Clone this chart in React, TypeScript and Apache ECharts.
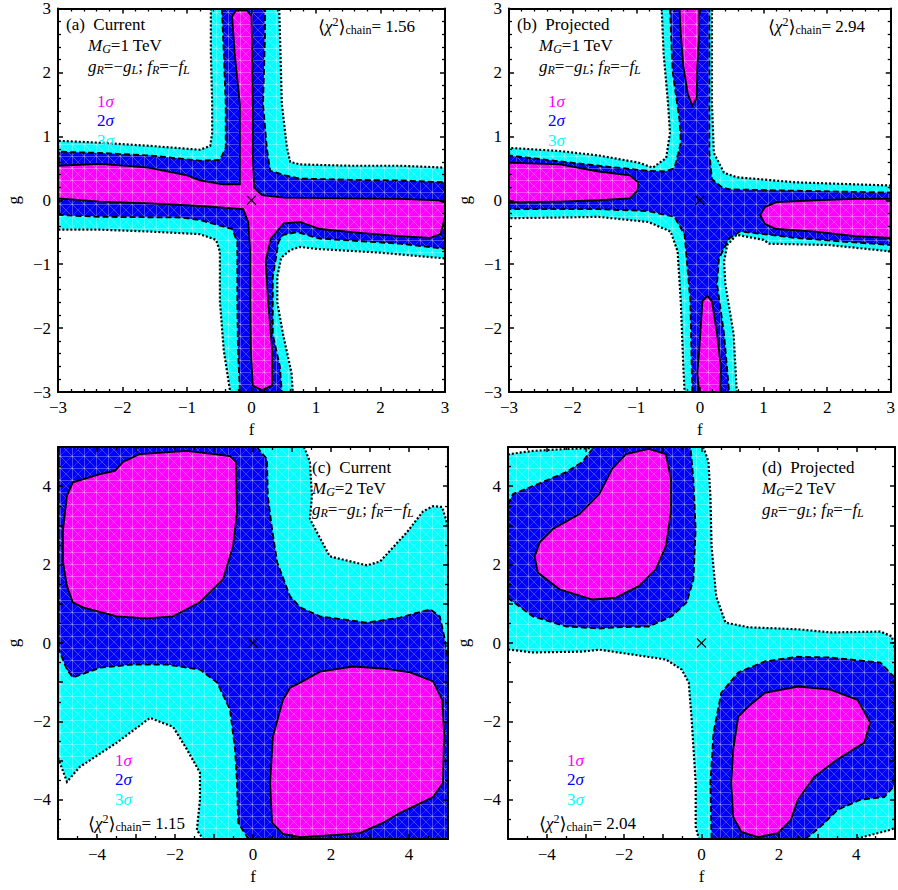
import React, { useEffect, useRef } from "react";
import * as echarts from "echarts";

type Pt = [number, number];

const SERIF = "Liberation Serif";
const MAGENTA = "#ff00ff";
const BLUE = "#0000ff";
const CYAN = "#00ffff";

// ---------- Panel (a): Current, M_G = 1 TeV ----------
const A_3SIGMA: Pt[] = [
  [-0.63, 3], [-0.63, 2.3], [-0.61, 1.5], [-0.61, 1.05], [-0.64, 0.85], [-0.8, 0.79], [-1.57, 0.85], [-2.35, 0.9], [-3, 0.93],
  [-3, -0.46], [-2.35, -0.46], [-1.57, -0.49], [-0.8, -0.53], [-0.55, -0.62], [-0.49, -0.8], [-0.49, -1.58], [-0.43, -2.35], [-0.33, -3],
  [0.64, -3], [0.62, -2.7], [0.49, -2.1], [0.4, -1.6], [0.4, -1.2], [0.46, -0.9], [0.6, -0.78], [0.75, -0.73], [1.0, -0.76], [2.0, -0.82], [3, -0.91],
  [3, 0.51], [2.3, 0.54], [1.53, 0.54], [0.75, 0.56], [0.6, 0.6], [0.55, 0.82], [0.47, 1.51], [0.43, 3],
];
const A_2SIGMA: Pt[] = [
  [-0.46, 3], [-0.43, 2.3], [-0.4, 1.5], [-0.4, 0.82], [-0.49, 0.63], [-0.8, 0.62], [-1.57, 0.7], [-2.35, 0.74], [-3, 0.76],
  [-3, -0.23], [-2.35, -0.26], [-1.1, -0.27], [-0.8, -0.31], [-0.3, -0.45], [-0.22, -0.65], [-0.22, -1.58], [-0.21, -2.35], [-0.18, -3],
  [0.47, -3], [0.44, -2.6], [0.33, -2.1], [0.33, -1.2], [0.42, -0.65], [0.49, -0.54], [0.71, -0.5], [1.06, -0.6], [2.3, -0.68], [3, -0.76],
  [3, 0.28], [2.3, 0.31], [1.53, 0.32], [0.75, 0.34], [0.52, 0.39], [0.29, 0.46], [0.24, 0.8], [0.18, 1.5], [0.21, 2.6], [0.21, 3],
];
const A_1SIGMA: Pt[] = [
  [-0.3, 2.88], [-0.24, 2.97], [-0.07, 2.97], [0.0, 2.88], [0.01, 2.3], [0.02, 1.5], [0.02, 0.7], [0.04, 0.2], [0.16, 0.08], [0.5, 0.04],
  [1.5, 0.03], [2.3, 0.02], [2.9, 0.0], [3, -0.04], [3, -0.26], [2.93, -0.53], [2.77, -0.59], [2.3, -0.56], [1.68, -0.51], [1.06, -0.45],
  [0.75, -0.34], [0.5, -0.36], [0.3, -0.6], [0.22, -0.95], [0.26, -1.6], [0.32, -2.35], [0.32, -2.9], [0.16, -2.97], [0.02, -2.9],
  [-0.01, -2.35], [-0.02, -1.6], [-0.02, -0.8], [-0.05, -0.34], [-0.13, -0.14], [-0.8, -0.09], [-1.57, -0.05], [-2.35, -0.02], [-3, 0.03],
  [-3, 0.54], [-2.35, 0.57], [-1.6, 0.51], [-1.0, 0.39], [-0.8, 0.31], [-0.45, 0.25], [-0.18, 0.25], [-0.18, 1.5], [-0.26, 2.29],
];

// ---------- Panel (b): Projected, M_G = 1 TeV ----------
const B_3SIGMA: Pt[] = [
  [-0.6, 3], [-0.57, 2.29], [-0.5, 1.51], [-0.47, 1.05], [-0.53, 0.66], [-0.74, 0.51], [-0.97, 0.59], [-1.59, 0.7], [-2.21, 0.77], [-3, 0.82],
  [-3, -0.28], [-2.2, -0.27], [-1.59, -0.26], [-0.81, -0.34], [-0.46, -0.49], [-0.35, -0.8], [-0.3, -1.58], [-0.26, -2.61], [-0.24, -3],
  [0.58, -3], [0.53, -2.09], [0.4, -1.31], [0.38, -0.96], [0.43, -0.7], [0.58, -0.54], [1.0, -0.62], [1.09, -0.68], [2.02, -0.7], [3, -0.8],
  [3, 0.23], [1.51, 0.28], [0.58, 0.36], [0.38, 0.43], [0.22, 0.74], [0.19, 1.51], [0.19, 3],
];
const B_2SIGMA: Pt[] = [
  [-0.47, 3], [-0.43, 2.02], [-0.32, 1.25], [-0.3, 0.9], [-0.4, 0.5], [-0.55, 0.45], [-0.81, 0.46], [-1.59, 0.54], [-3, 0.7],
  [-3, -0.14], [-1.59, -0.14], [-0.81, -0.17], [-0.4, -0.26], [-0.24, -0.54], [-0.15, -1.58], [-0.12, -3],
  [0.46, -3], [0.38, -2.09], [0.27, -1.31], [0.3, -0.91], [0.46, -0.6], [0.63, -0.49], [1.0, -0.53], [1.51, -0.59], [2.29, -0.65], [3, -0.7],
  [3, 0.12], [0.47, 0.17], [0.35, 0.2], [0.19, 0.33], [0.15, 0.74], [0.15, 3],
];
const B_1SIGMA_TOP: Pt[] = [
  [-0.32, 3], [-0.3, 2.6], [-0.26, 2.1], [-0.19, 1.67], [-0.12, 1.48], [-0.05, 1.6], [-0.04, 2.1], [-0.01, 2.6], [-0.01, 3],
];
const B_1SIGMA_LEFT: Pt[] = [
  [-3, 0.59], [-2.2, 0.56], [-1.59, 0.45], [-1.1, 0.39], [-0.97, 0.28], [-0.98, 0.15], [-1.1, 0.03], [-1.59, 0.0], [-2.2, -0.02], [-3, -0.03],
];
const B_1SIGMA_RIGHT: Pt[] = [
  [0.95, -0.23], [1.02, -0.11], [1.2, -0.03], [1.82, 0], [2.44, 0.02], [3, 0.02], [3, -0.59], [2.44, -0.56], [1.82, -0.49], [1.2, -0.45], [1.02, -0.37],
];
const B_1SIGMA_BOTTOM: Pt[] = [
  [0.12, -1.5], [0.04, -1.58], [-0.01, -2.35], [-0.04, -2.71], [-0.01, -3], [0.32, -3], [0.33, -2.61], [0.27, -2.09], [0.19, -1.58],
];

// ---------- Panel (c): Current, M_G = 2 TeV ----------
const C_2SIGMA: Pt[] = [[-5, -5], [5, -5], [5, 5], [-5, 5]];
const C_3SIGMA_UR: Pt[] = [
  [0.1, 5], [0.18, 4.9], [0.36, 4.69], [0.38, 3.75], [0.49, 2.9], [0.62, 2.06], [0.95, 1.19], [1.21, 0.91], [1.72, 0.68],
  [2.92, 0.52], [3.77, 0.65], [4.54, 0.86], [4.79, 0.68], [4.92, 0.09], [5, -0.42], [5, 5],
];
const C_OUT_UR: Pt[] = [
  [1.3, 5], [1.33, 4.95], [1.46, 4.62], [1.51, 3.75], [1.46, 3.16], [1.97, 2.21], [2.92, 1.98], [3.26, 2.08], [3.95, 2.83],
  [4.36, 3.36], [4.62, 3.49], [4.85, 3.47], [5, 2.98], [5, 5],
];
const C_3SIGMA_LL: Pt[] = [
  [-5, -0.1], [-4.95, -0.24], [-4.77, -0.68], [-4.62, -0.88], [-3.92, -0.63], [-3.08, -0.55], [-2.21, -0.55], [-1.36, -0.68],
  [-0.92, -1.01], [-0.59, -1.7], [-0.46, -2.72], [-0.41, -3.57], [-0.38, -4.59], [-0.15, -4.95], [-0.08, -5], [-5, -5],
];
const C_OUT_LL: Pt[] = [
  [-5, -2.93], [-4.77, -3.54], [-4.44, -3.16], [-3.49, -2.54], [-2.64, -1.91], [-2.05, -2.14], [-1.69, -2.72], [-1.36, -3.31],
  [-1.36, -4.0], [-1.44, -4.77], [-1.28, -5], [-5, -5],
];
const C_1SIGMA_UL: Pt[] = [
  [-3.33, 4.62], [-2.9, 4.82], [-1.69, 4.9], [-0.59, 4.77], [-0.44, 4.62], [-0.41, 3.34], [-0.51, 2.47], [-0.77, 1.62], [-1.36, 1.04],
  [-2.05, 0.68], [-2.72, 0.63], [-3.49, 0.68], [-4.36, 0.91], [-4.62, 1.04], [-4.77, 1.45], [-4.87, 2.06], [-4.87, 2.9], [-4.77, 3.75],
  [-4.62, 4.1], [-3.92, 4.31], [-3.54, 4.39],
];
const C_1SIGMA_LR: Pt[] = [
  [0.95, -1.14], [1.21, -1.01], [1.72, -0.73], [2.56, -0.6], [3.33, -0.65], [4.03, -0.75], [4.62, -0.98], [4.85, -1.45], [4.9, -2.29],
  [4.87, -3.57], [4.62, -3.93], [4.1, -4.18], [3.77, -4.33], [3.33, -4.59], [2.74, -4.85], [2.05, -4.9], [1.21, -4.95], [0.77, -4.87],
  [0.49, -4.59], [0.44, -3.57], [0.51, -2.39], [0.77, -1.45],
];

// ---------- Panel (d): Projected, M_G = 2 TeV ----------
const D_3SIGMA: Pt[] = [
  [-5, 4.8], [-4.95, 4.82], [-4.36, 4.9], [-3.49, 4.95], [-2.9, 4.97], [-2.85, 5], [0.05, 5], [0.18, 4.62], [0.23, 3.75], [0.26, 2.47],
  [0.38, 1.19], [0.62, 0.52], [1.21, 0.4], [2.49, 0.35], [3.33, 0.27], [4.62, 0.29], [4.92, 0.17], [5, -0.17], [5, -4.72], [4.87, -4.77],
  [4.36, -4.9], [3.97, -5], [-0.08, -5], [-0.08, -4.95], [-0.15, -4.69], [-0.15, -3.57], [-0.26, -1.88], [-0.33, -1.01], [-0.51, -0.68],
  [-0.92, -0.42], [-2.64, -0.17], [-3.08, -0.22], [-4.36, -0.24], [-4.95, -0.17], [-5, -0.17],
];
const D_2SIGMA_UL: Pt[] = [
  [-5, 3.54], [-4.87, 3.8], [-4.36, 4.0], [-3.49, 4.36], [-3.08, 4.62], [-2.82, 4.95], [-2.79, 5], [-0.28, 5], [-0.28, 4.95], [-0.21, 4.18],
  [-0.15, 2.9], [-0.21, 1.62], [-0.38, 1.04], [-0.77, 0.68], [-1.36, 0.42], [-2.21, 0.4], [-2.64, 0.37], [-3.49, 0.42], [-4.36, 0.68],
  [-4.95, 1.11], [-5, 1.16],
];
const D_2SIGMA_LR: Pt[] = [
  [0.26, -5], [0.23, -3.57], [0.31, -2.29], [0.51, -1.27], [0.95, -0.75], [1.64, -0.47], [2.49, -0.35], [3.33, -0.37], [4.62, -0.5],
  [4.97, -0.86], [5, -0.93], [5, -3.62], [4.72, -3.93], [4.1, -4.0], [3.51, -4.26], [3.18, -4.59], [2.82, -4.9], [2.67, -5],
];
const D_1SIGMA_UL: Pt[] = [
  [-3.85, 2.9], [-4.18, 2.57], [-4.31, 2.21], [-4.23, 1.8], [-3.67, 1.37], [-2.82, 1.11], [-2.21, 1.16], [-1.62, 1.45], [-1.18, 1.88],
  [-0.92, 2.47], [-0.79, 3.34], [-0.79, 4.18], [-0.92, 4.82], [-1.36, 4.95], [-1.95, 4.82], [-2.31, 4.44], [-2.64, 3.8], [-3.15, 3.29],
];
const D_1SIGMA_LR: Pt[] = [
  [0.95, -1.88], [1.21, -1.62], [1.64, -1.27], [2.49, -1.11], [3.33, -1.19], [4.03, -1.45], [4.36, -2.03], [4.21, -2.54], [3.51, -2.97],
  [2.92, -3.41], [2.49, -4.0], [2.31, -4.51], [1.97, -4.85], [1.46, -4.95], [1.03, -4.82], [0.82, -4.44], [0.77, -3.57], [0.82, -2.72],
];

// best-fit markers
const BEST_FIT: Pt[] = [[0, 0]];

// axes
const RANGE_1TEV = [-3, 3];
const RANGE_2TEV = [-5, 5];
const CHI2 = ["1.56", "2.94", "1.15", "2.04"];
const PANEL_TAGS = ["(a)  Current", "(b)  Projected", "(c)  Current", "(d)  Projected"];
const MASSES = ["1", "1", "2", "2"];

const GRIDS = [
  { left: 58, top: 4, width: 387, height: 388 },
  { left: 509, top: 4, width: 387, height: 388 },
  { left: 58, top: 447, width: 390, height: 392 },
  { left: 508, top: 447, width: 390, height: 392 },
];

const FS = 17;

function fmt(v: number, skipOdd: boolean) {
  if (skipOdd && Math.abs(Math.round(v)) % 2 === 1) return "";
  return v < 0 ? "\u2212" + Math.abs(v) : String(v);
}

function makeAxis(i: number, dim: "x" | "y", main: boolean) {
  const big = i >= 2;
  const r = big ? RANGE_2TEV : RANGE_1TEV;
  const base: any = {
    gridIndex: i,
    type: "value",
    min: r[0],
    max: r[1],
    interval: 1,
    z: 10,
    position: dim === "x" ? (main ? "bottom" : "top") : main ? "left" : "right",
    axisLine: { show: true, onZero: false, lineStyle: { color: "#000", width: 2 } },
    axisTick: { show: true, inside: true, length: 5, lineStyle: { color: "#000", width: 1.5 } },
    minorTick: { show: true, splitNumber: big ? 2 : 5, length: 3, lineStyle: { color: "#000", width: 1.3 } },
    splitLine: { show: false },
    minorSplitLine: { show: false },
    axisLabel: {
      show: main,
      color: "#000",
      fontFamily: SERIF,
      fontSize: FS,
      margin: 7,
      formatter: (v: number) => fmt(v, big),
    },
  };
  if (main) {
    base.name = dim === "x" ? "f" : "g";
    base.nameLocation = "middle";
    base.nameGap = dim === "x" ? 29 : 36;
    base.nameTextStyle = { color: "#000", fontFamily: SERIF, fontSize: FS };
  }
  return base;
}

// light triangulated mesh texture laid over the filled regions
const patternCache: Record<string, any> = {};
function meshFill(color: string) {
  if (typeof document === "undefined") return color;
  if (patternCache[color]) return patternCache[color];
  const n = 12;
  const cv = document.createElement("canvas");
  cv.width = n;
  cv.height = n;
  const ctx = cv.getContext("2d");
  if (!ctx) return color;
  ctx.fillStyle = color;
  ctx.fillRect(0, 0, n, n);
  ctx.strokeStyle = "rgba(255,255,255,0.28)";
  ctx.lineWidth = 1;
  ctx.beginPath();
  ctx.moveTo(0, 0.5);
  ctx.lineTo(n, 0.5);
  ctx.moveTo(0.5, 0);
  ctx.lineTo(0.5, n);
  ctx.moveTo(0, 0);
  ctx.lineTo(n, n);
  ctx.stroke();
  ctx.strokeStyle = "rgba(255,255,255,0.18)";
  ctx.beginPath();
  ctx.moveTo(n, 0);
  ctx.lineTo(0, n);
  ctx.stroke();
  const pat = { image: cv.toDataURL(), repeat: "repeat", imageWidth: n, imageHeight: n };
  patternCache[color] = pat;
  return pat;
}

function region(panel: number, pts: Pt[], fill: string, line: "solid" | "dashed" | "dotted" | "none", z: number) {
  const style: any = {
    fill: fill === "#ffffff" ? fill : meshFill(fill),
    stroke: line === "none" ? "none" : "#000",
    lineWidth: line === "dotted" ? 2.2 : 1.8,
  };
  if (line === "dashed") style.lineDash = [6, 3];
  if (line === "dotted") style.lineDash = [2, 2];
  return {
    type: "custom",
    coordinateSystem: "cartesian2d",
    xAxisIndex: panel * 2,
    yAxisIndex: panel * 2,
    clip: true,
    silent: true,
    z,
    data: [pts[0]],
    renderItem: (_p: any, api: any) => ({
      type: "polygon",
      shape: { points: pts.map((p) => api.coord(p)) },
      style,
    }),
  };
}

function marker(panel: number) {
  return {
    type: "custom",
    coordinateSystem: "cartesian2d",
    xAxisIndex: panel * 2,
    yAxisIndex: panel * 2,
    silent: true,
    z: 8,
    data: BEST_FIT,
    renderItem: (_p: any, api: any) => {
      const c = api.coord([api.value(0), api.value(1)]);
      const s = 4.5;
      const st = { stroke: "#000", lineWidth: 1.1 };
      return {
        type: "group",
        children: [
          { type: "line", shape: { x1: c[0] - s, y1: c[1] - s, x2: c[0] + s, y2: c[1] + s }, style: st },
          { type: "line", shape: { x1: c[0] - s, y1: c[1] + s, x2: c[0] + s, y2: c[1] - s }, style: st },
        ],
      };
    },
  };
}

const tok = (extra: any) => ({ fontFamily: SERIF, fontSize: FS, lineHeight: 20, fill: "#000", ...extra });
const RICH: any = {
  n: tok({}),
  br: tok({ fontFamily: "DejaVu Serif", fontSize: 18 }),
  i: tok({ fontStyle: "italic" }),
  isub: tok({ fontSize: 12, lineHeight: 12, fontStyle: "italic", verticalAlign: "bottom" }),
  sub: tok({ fontSize: 12, lineHeight: 12, verticalAlign: "bottom" }),
  sup: tok({ fontSize: 12, lineHeight: 11, verticalAlign: "top" }),
  m: tok({ fill: MAGENTA }),
  mi: tok({ fill: MAGENTA, fontStyle: "italic" }),
  b: tok({ fill: BLUE }),
  bi: tok({ fill: BLUE, fontStyle: "italic" }),
  c: tok({ fill: CYAN }),
  ci: tok({ fill: CYAN, fontStyle: "italic" }),
};

function text(x: number, y: number, t: string) {
  return {
    type: "text",
    x,
    y,
    z: 100,
    silent: true,
    style: { text: t, rich: RICH, fontFamily: SERIF, fontSize: FS, fill: "#000", verticalAlign: "middle", align: "left" },
  };
}

const TEXT_POS = [
  { tag: [66, 24], mg: [88, 45], gr: [88, 66], sig: [97, 101], chi: [318, 26] },
  { tag: [517, 24], mg: [539, 45], gr: [539, 66], sig: [548, 101], chi: [768, 26] },
  { tag: [312, 467], mg: [312, 488], gr: [312, 509], sig: [115, 760], chi: [88, 823] },
  { tag: [762, 467], mg: [762, 488], gr: [762, 509], sig: [567, 760], chi: [539, 823] },
];

function buildOption() {
  const xAxis: any[] = [];
  const yAxis: any[] = [];
  for (let i = 0; i < 4; i++) {
    xAxis.push(makeAxis(i, "x", true), makeAxis(i, "x", false));
    yAxis.push(makeAxis(i, "y", true), makeAxis(i, "y", false));
  }
  const series: any[] = [
    region(0, A_3SIGMA, CYAN, "dotted", 2),
    region(0, A_2SIGMA, BLUE, "dashed", 3),
    region(0, A_1SIGMA, MAGENTA, "solid", 4),
    marker(0),
    region(1, B_3SIGMA, CYAN, "dotted", 2),
    region(1, B_2SIGMA, BLUE, "dashed", 3),
    region(1, B_1SIGMA_TOP, MAGENTA, "solid", 4),
    region(1, B_1SIGMA_LEFT, MAGENTA, "solid", 4),
    region(1, B_1SIGMA_RIGHT, MAGENTA, "solid", 4),
    region(1, B_1SIGMA_BOTTOM, MAGENTA, "solid", 4),
    marker(1),
    region(2, C_2SIGMA, BLUE, "none", 1),
    region(2, C_3SIGMA_UR, CYAN, "dashed", 2),
    region(2, C_3SIGMA_LL, CYAN, "dashed", 2),
    region(2, C_OUT_UR, "#ffffff", "dotted", 3),
    region(2, C_OUT_LL, "#ffffff", "dotted", 3),
    region(2, C_1SIGMA_UL, MAGENTA, "solid", 4),
    region(2, C_1SIGMA_LR, MAGENTA, "solid", 4),
    marker(2),
    region(3, D_3SIGMA, CYAN, "dotted", 2),
    region(3, D_2SIGMA_UL, BLUE, "dashed", 3),
    region(3, D_2SIGMA_LR, BLUE, "dashed", 3),
    region(3, D_1SIGMA_UL, MAGENTA, "solid", 4),
    region(3, D_1SIGMA_LR, MAGENTA, "solid", 4),
    marker(3),
  ];

  const graphic: any[] = [];
  for (let i = 0; i < 4; i++) {
    const p = TEXT_POS[i];
    graphic.push(text(p.tag[0], p.tag[1], `{n|${PANEL_TAGS[i]}}`));
    graphic.push(text(p.mg[0], p.mg[1], `{i|M}{isub|G}{n|=${MASSES[i]} TeV}`));
    graphic.push(
      text(p.gr[0], p.gr[1], "{i|g}{isub|R}{n|=\u2212}{i|g}{isub|L}{n|; }{i|f}{isub|R}{n|=\u2212}{i|f}{isub|L}")
    );
    graphic.push(text(p.sig[0], p.sig[1], "{m|1}{mi|\u03c3}"));
    graphic.push(text(p.sig[0], p.sig[1] + 19.5, "{b|2}{bi|\u03c3}"));
    graphic.push(text(p.sig[0], p.sig[1] + 39, "{c|3}{ci|\u03c3}"));
    graphic.push(text(p.chi[0], p.chi[1], `{br|\u27e8}{i|\u03c7}{sup|2}{br|\u27e9}{sub|chain}{n|= ${CHI2[i]}}`));
  }

  return {
    animation: false,
    backgroundColor: "#ffffff",
    textStyle: { fontFamily: SERIF },
    grid: GRIDS,
    xAxis,
    yAxis,
    series,
    graphic,
  };
}

export default function App() {
  const ref = useRef<HTMLDivElement>(null);
  useEffect(() => {
    const chart = echarts.init(ref.current!, null, { renderer: "svg" });
    chart.setOption(buildOption() as any);
    return () => chart.dispose();
  }, []);
  return <div ref={ref} style={{ position: "fixed", left: 0, top: 0, width: 898, height: 890 }} />;
}
